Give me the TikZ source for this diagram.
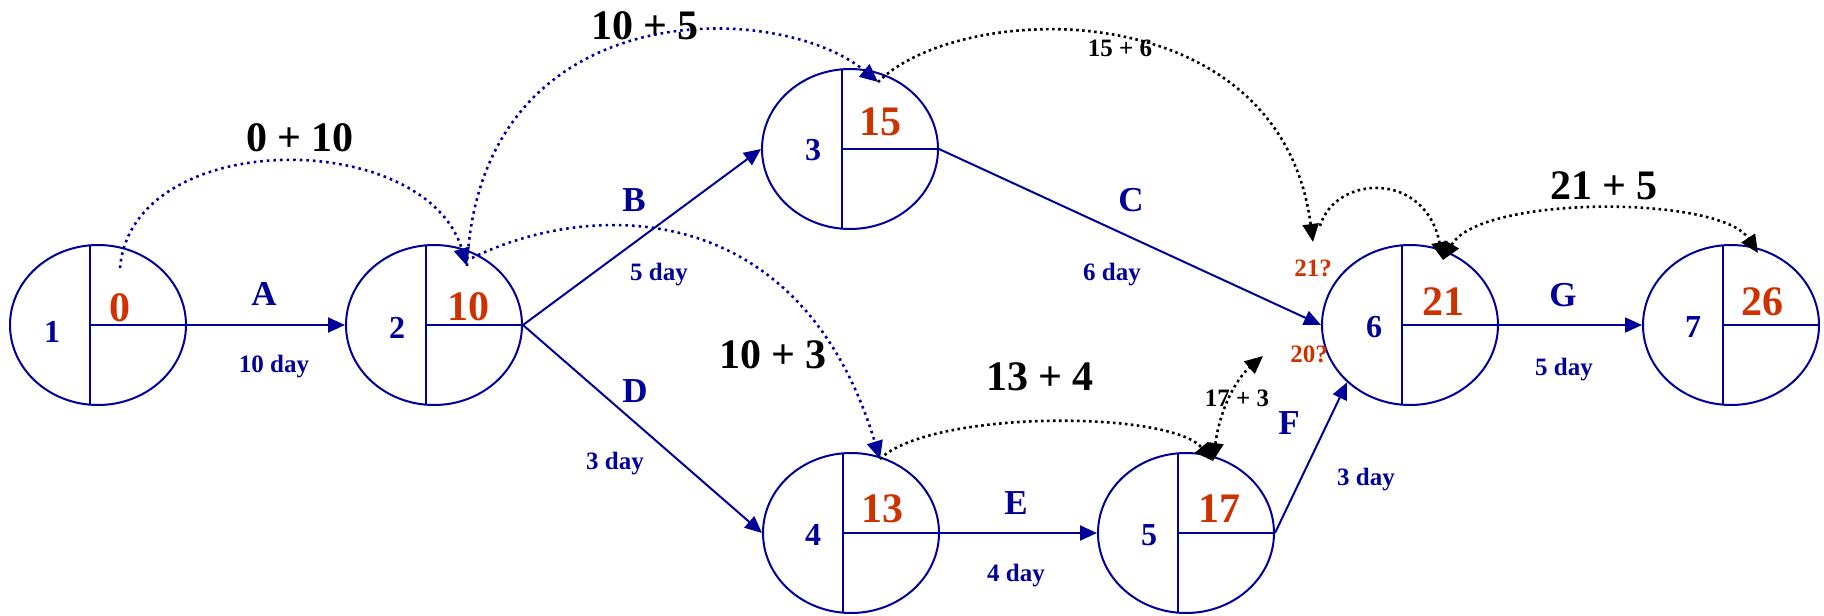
\documentclass[tikz,border=0pt]{standalone}
\usepackage{fontspec}
\setmainfont{Liberation Serif}
\usetikzlibrary{arrows.meta,shapes.geometric}
\definecolor{navy}{RGB}{0,0,153}
\definecolor{orng}{RGB}{204,51,0}
\begin{document}
\begin{tikzpicture}[x=1pt,y=-1pt,
  ev/.style={ellipse, draw=navy, line width=2pt, minimum width=176pt, minimum height=160pt, inner sep=0pt},
  cross/.style={draw=navy, line width=1.8pt},
  act/.style={draw=navy, line width=2pt, -{Triangle[length=17pt,width=15pt]}},
  bdot/.style={draw=navy, line width=2.6pt, dash pattern=on 2.6pt off 4pt},
  kdot/.style={draw=black, line width=2.6pt, dash pattern=on 2.6pt off 3.4pt},
  tip/.style={-{Triangle[length=18pt,width=16pt]}},
  tips/.style={{Triangle[length=18pt,width=16pt]}-{Triangle[length=18pt,width=16pt]}},
  numlbl/.style={text=navy, inner sep=0pt, font=\bfseries\fontsize{32}{32}\selectfont},
  vallbl/.style={text=orng, inner sep=0pt, font=\bfseries\fontsize{42}{42}\selectfont},
  actlbl/.style={text=navy, inner sep=0pt, font=\bfseries\fontsize{35}{35}\selectfont},
  durlbl/.style={text=navy, inner sep=0pt, font=\bfseries\fontsize{25}{25}\selectfont},
  sumbig/.style={text=black, inner sep=0pt, font=\bfseries\fontsize{42}{42}\selectfont},
  sumsm/.style={text=black, inner sep=0pt, font=\bfseries\fontsize{25}{25}\selectfont},
  qlbl/.style={text=orng, inner sep=0pt, font=\bfseries\fontsize{25}{25}\selectfont}]
\fill[white] (0,0) rectangle (1824,616);
\useasboundingbox (0,0) rectangle (1824,616);

% events
\node[ev] (n1) at (98,325) {};
\node[ev] (n2) at (434,325) {};
\node[ev] (n3) at (850,149) {};
\node[ev] (n4) at (851,533) {};
\node[ev] (n5) at (1186,533) {};
\node[ev] (n6) at (1410,325) {};
\node[ev] (n7) at (1731,325) {};
\foreach \n in {n1,n2,n3,n4,n5,n6,n7} {
  \draw[cross] ([xshift=-8pt,yshift=79.7pt]\n.center) -- ([xshift=-8pt,yshift=-79.7pt]\n.center);
  \draw[cross] ([xshift=-8pt]\n.center) -- (\n.east);
}

% event numbers and times
\node[numlbl] (l1) at (52,332) {1};
\node[vallbl] (t1) at (120,308) {0};
\node[numlbl] (l2) at (397,328) {2};
\node[vallbl] (t2) at (468,307) {10};
\node[numlbl] (l3) at (813,150) {3};
\node[vallbl] (t3) at (880,122) {15};
\node[numlbl] (l4) at (813,535) {4};
\node[vallbl] (t4) at (882,509) {13};
\node[numlbl] (l5) at (1149,535) {5};
\node[vallbl] (t5) at (1219,509) {17};
\node[numlbl] (l6) at (1374,327) {6};
\node[vallbl] (t6) at (1443,302) {21};
\node[numlbl] (l7) at (1693,327) {7};
\node[vallbl] (t7) at (1762,302) {26};

% activities
\draw[act] (n1.east) -- (n2.west);
\draw[act] (n2.east) -- (n3.west);
\draw[act] (n3.east) -- (n6.west);
\draw[act] (n2.east) -- (n4.west);
\draw[act] (n4.east) -- (n5.west);
\draw[act] (n5.east) -- (n6.south west);
\draw[act] (n6.east) -- (n7.west);

\node[actlbl] (aA) at (264,294) {A};
\node[durlbl] (dA) at (274,367) {10 day};
\node[actlbl] (aB) at (634,200) {B};
\node[durlbl] (dB) at (659,275) {5 day};
\node[actlbl] (aC) at (1131,200) {C};
\node[durlbl] (dC) at (1112,275) {6 day};
\node[actlbl] (aD) at (635,391) {D};
\node[durlbl] (dD) at (615,464) {3 day};
\node[actlbl] (aE) at (1016,503) {E};
\node[durlbl] (dE) at (1016,576) {4 day};
\node[actlbl] (aF) at (1289,423) {F};
\node[durlbl] (dF) at (1366,480) {3 day};
\node[actlbl] (aG) at (1563,295) {G};
\node[durlbl] (dG) at (1564,370) {5 day};

% curve end points
\coordinate (p1s) at (120,268);
\coordinate (p2top) at (467,266);
\coordinate (p2r) at (472,258);
\coordinate (p3top) at (878,82);
\coordinate (p4top) at (880,459);
\coordinate (p5top) at (1213,461);
\coordinate (q21) at (1313,242);
\coordinate (q21b) at (1320,226);
\coordinate (q20) at (1263,356);
\coordinate (p6top) at (1443,260);
\coordinate (p7top) at (1758,253);

% forward pass curves
\draw[bdot,tip] (p1s) .. controls (132,127) and (425,127) .. (p2top);
\draw[bdot,tip] (p2top) .. controls (480,-10) and (780,0) .. (p3top);
\draw[bdot,tip] (p2r) .. controls (590,200) and (800,195) .. (p4top);
\draw[kdot,tip] (p3top) .. controls (960,0) and (1280,-10) .. (q21);
\draw[kdot,tip] (q21b) .. controls (1335,175) and (1425,170) .. (p6top);
\draw[kdot,tips] (p6top) .. controls (1480,195) and (1720,195) .. (p7top);
\draw[kdot,tip] (p4top) .. controls (930,410) and (1170,410) .. (p5top);
\draw[kdot,tips] (p5top) .. controls (1220,410) and (1235,380) .. (q20);

% sums
\node[sumbig] (s1) at (300,138) {0 + 10};
\node[sumbig] (s2) at (645,26) {10 + 5};
\node[sumsm] (s3) at (1120,48) {15 + 6};
\node[sumbig] (s4) at (1604,186) {21 + 5};
\node[sumbig] (s5) at (773,355) {10 + 3};
\node[sumbig] (s6) at (1040,377) {13 + 4};
\node[sumsm] (s7) at (1237,398) {17 + 3};
\node[qlbl] (q1) at (1313,268) {21?};
\node[qlbl] (q2) at (1309,354) {20?};
\end{tikzpicture}
\end{document}
